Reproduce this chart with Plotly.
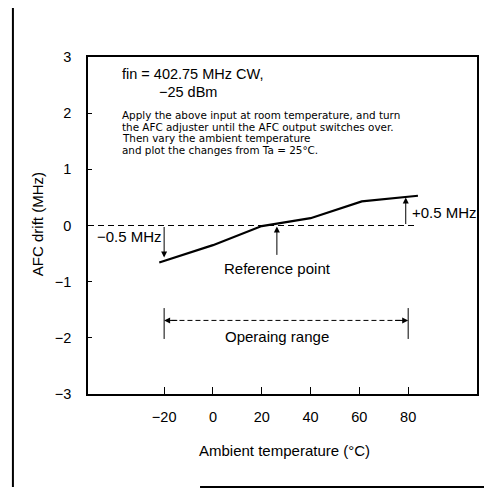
import plotly.graph_objects as go

# Data
temp_c = [-22, 0, 20, 40, 61, 84]
afc_drift_mhz = [-0.66, -0.35, -0.01, 0.13, 0.43, 0.53]
x_ticks = [-20, 0, 20, 40, 60, 80]
y_ticks = [-3, -2, -1, 0, 1, 2, 3]
zero_line_x = [-51.2, 84]
zero_line_y = [0, 0]
op_range = [-20, 80]
op_range_y = -1.69
ref_point_x = 26.2
minus_marker_x = -20
plus_marker_x = 79
note_lines = [
    "Apply the above input at room temperature, and turn",
    "the AFC adjuster until the AFC output switches over.",
    "Then vary the ambient temperature",
    "and plot the changes from Ta = 25°C.",
]

FONT = "Liberation Sans, Arial, Helvetica, sans-serif"
NOTE_FONT = "DejaVu Sans, sans-serif"

fig = go.Figure()

fig.add_trace(go.Scatter(x=zero_line_x, y=zero_line_y, mode="lines",
                         line=dict(color="black", width=1, dash="6px,4px"),
                         hoverinfo="skip", showlegend=False))
fig.add_trace(go.Scatter(x=temp_c, y=afc_drift_mhz, mode="lines",
                         line=dict(color="black", width=2.2),
                         showlegend=False))
fig.add_trace(go.Scatter(x=[op_range[0] + 3, op_range[1] - 3], y=[op_range_y, op_range_y],
                         mode="lines", line=dict(color="black", width=1, dash="5px,3px"),
                         hoverinfo="skip", showlegend=False))

shapes = []
for xv in op_range:
    shapes.append(dict(type="line", xref="x", yref="y", x0=xv, x1=xv, y0=-1.47, y1=-2.02,
                       line=dict(color="black", width=1)))
shapes += [
    dict(type="line", xref="paper", yref="paper", x0=-0.193, x1=-0.193, y0=1.157, y1=-0.276,
         line=dict(color="black", width=2)),
    dict(type="line", xref="paper", yref="paper", x0=-0.193, x1=1.04, y0=1.157, y1=1.157,
         line=dict(color="black", width=2)),
    dict(type="line", xref="paper", yref="paper", x0=0.288, x1=1.04, y0=-0.276, y1=-0.276,
         line=dict(color="black", width=2)),
]

def arrow(x, y, ax, ay):
    return dict(x=x, y=y, ax=ax, ay=ay, xref="x", yref="y", axref="x", ayref="y",
                text="", showarrow=True, arrowhead=2, arrowsize=1.2, arrowwidth=1,
                arrowcolor="black")

def txt(x, y, s, size=15, xanchor="left", yanchor="middle", family=FONT):
    return dict(x=x, y=y, xref="x", yref="y", text=s, showarrow=False,
                xanchor=xanchor, yanchor=yanchor, align="left",
                font=dict(family=family, size=size, color="black"))

annotations = [
    txt(-38.1, 2.70, "fin = 402.75 MHz CW,", 14.5),
    txt(-23.0, 2.38, "−25 dBm", 14.5),
]
for i, line in enumerate(note_lines):
    annotations.append(txt(-38.1, 1.96 - i * 0.205, line, 10.4, family=NOTE_FONT))

annotations += [
    txt(-48.4, -0.2, "−0.5 MHz", 15),
    txt(80.7, 0.24, "+0.5 MHz", 15),
    txt(ref_point_x + 0.4, -0.77, "Reference point", 15, xanchor="center"),
    txt(26.2, -1.97, "Operaing range", 15, xanchor="center"),
    arrow(minus_marker_x, -0.57, minus_marker_x, 0),
    arrow(plus_marker_x, 0.5, plus_marker_x, 0),
    arrow(ref_point_x, -0.02, ref_point_x, -0.55),
    arrow(op_range[0], op_range_y, op_range[0] + 6, op_range_y),
    arrow(op_range[1], op_range_y, op_range[1] - 6, op_range_y),
    dict(x=0.506, y=-0.169, xref="paper", yref="paper", text="Ambient temperature (°C)",
         showarrow=False, xanchor="center", yanchor="middle",
         font=dict(family=FONT, size=15, color="black")),
    dict(x=-0.131, y=0.504, xref="paper", yref="paper", text="AFC drift (MHz)",
         showarrow=False, xanchor="center", yanchor="middle", textangle=-90,
         font=dict(family=FONT, size=15, color="black")),
]

def minus(v):
    return ("−" + str(-v)) if v < 0 else str(v)

# The page body has an 8px default margin, so the figure is 8px smaller
fig.update_layout(
    width=484, height=481,
    margin=dict(l=80, r=15, t=49, b=95),
    paper_bgcolor="white", plot_bgcolor="white",
    shapes=shapes, annotations=annotations,
    font=dict(family=FONT, size=14.5, color="black"),
    xaxis=dict(range=[-51.2, 108.2], tickvals=x_ticks, ticktext=[minus(v) for v in x_ticks],
               ticks="inside", ticklen=7,
               tickcolor="black", showgrid=False, zeroline=False, showline=True,
               linecolor="black", linewidth=1.5, mirror=True, ticklabelstandoff=9,
               tickfont=dict(family=FONT, size=14.5, color="black")),
    yaxis=dict(range=[-3, 3], tickvals=y_ticks, ticktext=[minus(v) for v in y_ticks],
               ticks="inside", ticklen=4, tickcolor="black", showgrid=False, zeroline=False,
               showline=True, linecolor="black", linewidth=1.5, mirror=True,
               ticklabelstandoff=12,
               tickfont=dict(family=FONT, size=14.5, color="black")),
)

fig.write_html("out.html")
